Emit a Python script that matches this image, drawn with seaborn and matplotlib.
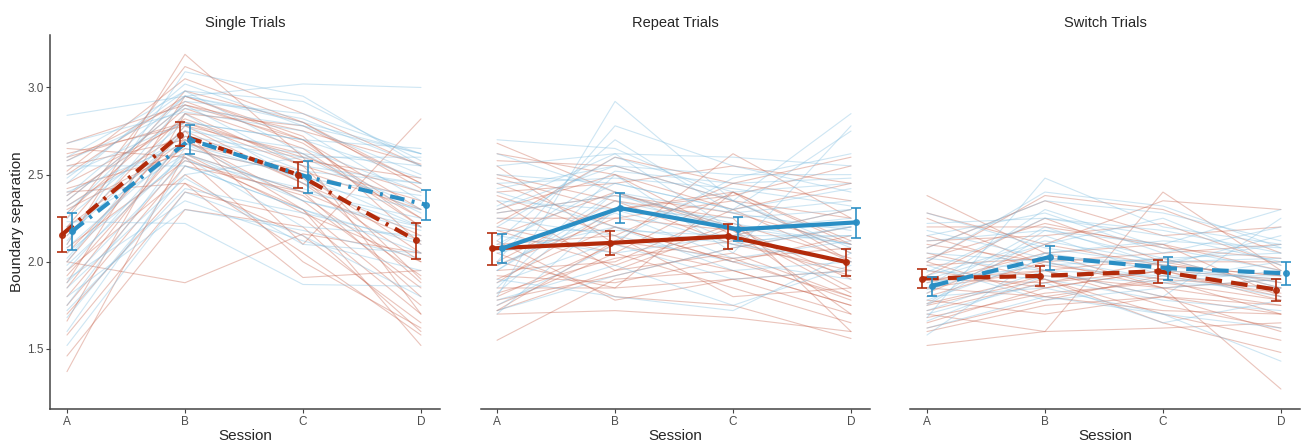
import numpy as np
import pandas as pd
import matplotlib
matplotlib.use("Agg")
import matplotlib.pyplot as plt
import seaborn as sns

sessions = ["A", "B", "C", "D"]
panels = ["Single Trials", "Repeat Trials", "Switch Trials"]
groups = ["red", "blue"]

# individual subjects, values at A, B, C, D
single_red = [
    [1.37, 2.62, 2.40, 1.80], [1.46, 2.30, 2.20, 1.60], [1.66, 2.85, 2.55, 1.90],
    [1.80, 2.60, 2.30, 1.75], [1.88, 2.95, 2.70, 2.20], [1.95, 2.50, 2.05, 1.58],
    [2.00, 1.88, 2.16, 2.05], [2.05, 2.75, 2.45, 2.00], [2.10, 3.19, 2.60, 1.70],
    [2.15, 2.85, 2.78, 2.45], [2.20, 2.70, 2.35, 1.85], [2.25, 3.12, 2.85, 2.55],
    [2.30, 2.65, 2.50, 2.05], [2.35, 2.90, 2.70, 2.30], [2.40, 2.45, 1.91, 1.95],
    [2.45, 2.80, 2.60, 2.40], [2.50, 2.95, 2.72, 2.10], [2.55, 2.70, 2.30, 1.52],
    [2.60, 2.80, 2.55, 2.35], [2.68, 2.90, 2.75, 2.56], [2.65, 2.60, 2.00, 1.62],
    [2.32, 2.75, 2.10, 2.82], [1.75, 2.55, 2.40, 2.12], [2.20, 2.98, 2.80, 2.45],
    [1.58, 2.40, 2.25, 1.70], [2.00, 2.78, 2.62, 2.25], [2.42, 2.62, 2.28, 2.00],
    [1.85, 2.72, 2.48, 1.88], [2.28, 2.88, 2.65, 2.20], [1.92, 2.68, 2.52, 2.30],
    [2.52, 3.05, 2.80, 2.42], [1.70, 2.45, 2.15, 1.65], [2.38, 2.82, 2.58, 2.48],
    [2.08, 2.58, 2.38, 1.92], [2.58, 2.92, 2.68, 2.25], [2.62, 2.78, 2.45, 2.15],
]
single_blue = [
    [2.84, 2.95, 3.02, 3.00], [1.52, 2.40, 2.15, 1.80], [1.60, 2.55, 2.30, 2.05],
    [1.75, 2.65, 2.50, 2.20], [1.85, 2.48, 2.10, 2.05], [1.95, 2.70, 2.60, 2.60],
    [2.00, 2.85, 2.45, 2.30], [2.05, 2.60, 2.20, 2.15], [2.10, 3.09, 2.95, 2.55],
    [2.15, 2.75, 2.65, 2.40], [2.23, 2.22, 1.87, 1.86], [2.28, 2.95, 2.80, 2.62],
    [2.35, 2.90, 2.55, 2.45], [2.40, 2.68, 2.35, 2.20], [2.45, 3.02, 2.78, 2.50],
    [2.50, 2.80, 2.70, 2.65], [2.55, 2.55, 2.30, 2.10], [2.60, 2.98, 2.92, 2.58],
    [2.68, 2.86, 2.75, 2.35], [1.90, 2.35, 2.12, 1.95], [2.20, 2.62, 2.40, 2.25],
    [2.02, 2.78, 2.52, 2.45], [1.68, 2.50, 2.60, 2.28], [2.32, 2.72, 2.62, 2.55],
    [1.80, 2.30, 2.18, 2.02], [2.12, 2.92, 2.85, 2.62], [2.38, 2.95, 2.82, 2.55],
    [1.98, 2.62, 2.35, 2.18], [2.58, 2.88, 2.78, 2.62], [1.72, 2.42, 2.28, 2.12],
    [2.25, 2.80, 2.70, 2.48], [2.08, 2.68, 2.48, 2.38], [2.48, 2.98, 2.62, 2.30],
    [1.88, 2.58, 2.42, 2.20],
]
repeat_red = [
    [1.55, 1.90, 1.95, 1.75], [1.70, 1.72, 1.68, 1.60], [1.72, 1.95, 2.20, 1.85],
    [1.75, 2.05, 2.40, 2.10], [1.80, 2.10, 2.62, 2.25], [1.85, 1.85, 1.90, 1.70],
    [1.90, 2.20, 2.00, 1.80], [1.95, 2.00, 2.30, 2.45], [2.00, 2.35, 2.10, 1.95],
    [2.05, 1.80, 1.75, 1.56], [2.10, 2.15, 2.45, 2.60], [2.15, 2.40, 2.20, 1.90],
    [2.20, 2.05, 1.85, 1.65], [2.25, 2.25, 2.35, 2.05], [2.30, 2.50, 2.15, 2.30],
    [2.35, 1.95, 2.05, 1.80], [2.40, 2.45, 2.55, 2.45], [2.45, 2.20, 2.00, 2.15],
    [2.50, 2.35, 2.25, 1.60], [2.55, 2.10, 1.95, 1.75], [2.62, 2.50, 2.30, 2.00],
    [2.68, 2.40, 2.18, 1.70], [1.78, 1.92, 2.08, 2.20], [2.00, 1.85, 2.40, 2.00],
    [2.22, 2.60, 2.45, 2.35], [1.88, 2.30, 2.38, 2.55], [2.12, 1.78, 1.90, 1.95],
    [2.38, 2.15, 1.80, 1.85], [1.82, 2.02, 2.12, 1.92], [2.28, 2.38, 2.28, 2.10],
    [1.98, 2.25, 2.18, 1.82], [2.48, 2.30, 2.40, 2.12], [1.72, 2.12, 2.02, 1.78],
    [2.18, 1.98, 2.22, 2.02], [2.58, 2.55, 2.35, 2.25], [1.92, 1.88, 2.02, 2.08],
]
repeat_blue = [
    [1.70, 2.30, 2.10, 2.20], [1.75, 2.10, 1.90, 1.95], [1.80, 2.92, 2.35, 2.85],
    [1.85, 2.50, 2.05, 2.78], [1.90, 1.80, 1.72, 2.05], [1.95, 2.35, 2.20, 2.10],
    [2.00, 2.78, 2.55, 2.40], [2.05, 2.20, 1.95, 2.00], [2.10, 2.45, 2.30, 2.75],
    [2.15, 2.05, 2.15, 2.15], [2.20, 2.60, 2.40, 2.45], [2.25, 2.15, 2.00, 1.90],
    [2.30, 2.55, 2.50, 2.50], [2.35, 2.30, 2.25, 2.30], [2.45, 2.48, 2.42, 2.32],
    [2.55, 2.62, 2.60, 2.55], [2.62, 2.40, 2.20, 2.20], [2.70, 2.65, 2.35, 2.05],
    [1.78, 1.98, 1.75, 1.98], [2.12, 2.70, 2.28, 2.35], [1.95, 2.40, 2.12, 2.15],
    [2.40, 2.20, 2.10, 2.00], [1.88, 2.12, 2.48, 2.62], [2.28, 2.38, 2.22, 2.10],
    [1.82, 2.40, 2.28, 2.18], [2.08, 2.52, 2.45, 2.48], [2.32, 2.62, 2.18, 2.25],
    [1.98, 2.28, 2.02, 2.12], [2.50, 2.45, 2.30, 2.42], [2.18, 2.18, 2.15, 2.30],
    [1.72, 1.92, 2.08, 2.20], [2.42, 2.55, 2.35, 2.08],
]
switch_red = [
    [1.52, 1.60, 1.62, 1.65], [1.60, 1.75, 1.80, 1.70], [1.65, 1.85, 1.95, 1.80],
    [1.70, 1.60, 2.40, 1.95], [1.75, 1.90, 1.70, 1.55], [1.80, 2.00, 1.85, 1.75],
    [1.85, 1.80, 1.90, 1.85], [1.88, 2.05, 2.10, 1.95], [1.90, 1.95, 1.75, 1.62],
    [1.95, 1.85, 1.95, 1.90], [2.00, 2.38, 2.30, 2.05], [2.05, 1.90, 1.65, 1.48],
    [2.10, 2.00, 2.05, 2.10], [2.15, 1.95, 1.80, 1.75], [2.20, 2.20, 2.10, 1.80],
    [2.28, 2.10, 1.98, 1.92], [2.38, 2.05, 1.85, 1.27], [1.72, 1.88, 2.00, 2.00],
    [2.00, 1.80, 1.72, 1.70], [1.82, 2.10, 2.35, 2.30], [1.92, 2.25, 2.00, 1.88],
    [1.78, 1.70, 1.80, 1.60], [2.08, 2.35, 2.15, 2.20], [1.68, 1.82, 1.88, 1.78],
    [1.98, 2.02, 1.98, 1.92], [1.62, 1.78, 1.92, 1.82], [2.12, 2.15, 2.22, 1.98],
    [1.85, 1.95, 2.02, 1.85], [2.25, 1.98, 1.90, 1.70], [1.76, 1.92, 1.85, 1.90],
    [2.02, 2.22, 2.08, 2.02], [1.90, 1.88, 1.95, 1.78],
]
switch_blue = [
    [1.58, 2.05, 1.95, 1.90], [1.62, 1.80, 1.70, 1.62], [1.68, 2.48, 2.20, 2.10],
    [1.72, 1.95, 1.80, 2.25], [1.75, 2.15, 1.92, 1.80], [1.80, 1.85, 1.70, 1.43],
    [1.85, 2.30, 2.08, 1.95], [1.88, 1.98, 2.02, 2.05], [1.90, 2.10, 2.25, 1.98],
    [1.95, 1.90, 1.78, 1.72], [2.00, 2.40, 2.32, 2.08], [2.05, 2.00, 1.88, 1.85],
    [2.12, 2.18, 2.10, 2.30], [2.22, 2.25, 2.15, 2.00], [2.28, 2.08, 1.98, 1.88],
    [1.70, 1.88, 1.65, 1.78], [1.82, 2.20, 1.98, 2.15], [1.98, 1.78, 1.85, 1.90],
    [2.08, 2.35, 2.28, 2.12], [1.78, 2.02, 1.90, 2.00], [1.92, 2.12, 2.00, 2.02],
    [1.66, 1.92, 1.88, 1.95], [2.15, 2.28, 2.05, 2.20], [1.84, 2.05, 2.12, 2.08],
    [2.02, 1.95, 1.92, 1.92], [1.76, 2.18, 2.02, 1.85], [2.18, 2.02, 2.00, 2.10],
    [1.94, 2.25, 2.18, 2.05],
]

# group means with error bar limits
single_red_mean = [2.156, 2.729, 2.500, 2.123]
single_red_lo = [2.056, 2.664, 2.425, 2.018]
single_red_hi = [2.257, 2.800, 2.574, 2.222]
single_blue_mean = [2.175, 2.700, 2.486, 2.328]
single_blue_lo = [2.066, 2.620, 2.394, 2.242]
single_blue_hi = [2.280, 2.782, 2.578, 2.414]

repeat_red_mean = [2.077, 2.108, 2.146, 1.999]
repeat_red_lo = [1.984, 2.037, 2.073, 1.921]
repeat_red_hi = [2.167, 2.177, 2.219, 2.076]
repeat_blue_mean = [2.077, 2.308, 2.186, 2.226]
repeat_blue_lo = [1.994, 2.221, 2.118, 2.139]
repeat_blue_hi = [2.158, 2.394, 2.255, 2.311]

switch_red_mean = [1.904, 1.919, 1.946, 1.841]
switch_red_lo = [1.848, 1.864, 1.881, 1.778]
switch_red_hi = [1.959, 1.974, 2.009, 1.904]
switch_blue_mean = [1.862, 2.028, 1.963, 1.934]
switch_blue_lo = [1.806, 1.955, 1.898, 1.869]
switch_blue_hi = [1.913, 2.093, 2.028, 1.999]

subjects = {
    "Single Trials": {"red": single_red, "blue": single_blue},
    "Repeat Trials": {"red": repeat_red, "blue": repeat_blue},
    "Switch Trials": {"red": switch_red, "blue": switch_blue},
}
summary = {
    "Single Trials": {"red": (single_red_mean, single_red_lo, single_red_hi),
                      "blue": (single_blue_mean, single_blue_lo, single_blue_hi)},
    "Repeat Trials": {"red": (repeat_red_mean, repeat_red_lo, repeat_red_hi),
                      "blue": (repeat_blue_mean, repeat_blue_lo, repeat_blue_hi)},
    "Switch Trials": {"red": (switch_red_mean, switch_red_lo, switch_red_hi),
                      "blue": (switch_blue_mean, switch_blue_lo, switch_blue_hi)},
}

# long tables
rows = []
for p in panels:
    for g in groups:
        for i, vals in enumerate(subjects[p][g]):
            for j, v in enumerate(vals):
                rows.append({"panel": p, "group": g, "subj": f"{g}{i}", "x": j, "value": v})
df = pd.DataFrame(rows)

mrows = []
for p in panels:
    for g in groups:
        m, lo, hi = summary[p][g]
        for j in range(4):
            mrows.append({"panel": p, "group": g, "x": j, "mean": m[j], "lo": lo[j], "hi": hi[j]})
dm = pd.DataFrame(mrows)

sns.set_theme(style="white")
plt.rcParams["font.family"] = ["Liberation Sans", "DejaVu Sans"]

thin = {"red": "#c8644e", "blue": "#7fbde0"}
thick = {"red": "#b22a0a", "blue": "#2a8ec4"}
dodge = {"red": -0.042, "blue": 0.042}
styles = {
    "Single Trials": (0, (3.5, 1.8, 0.7, 1.8)),
    "Repeat Trials": "-",
    "Switch Trials": (0, (4.0, 2.2)),
}

fig = plt.figure(figsize=(13.04, 4.45), dpi=100)
lefts = [0.0387, 0.3685, 0.6982]
axes = [fig.add_axes([l, 0.081, 0.2986, 0.84]) for l in lefts]

for ax, p in zip(axes, panels):
    d = df[df.panel == p]
    for g in groups:
        sns.lineplot(data=d[d.group == g], x="x", y="value", units="subj",
                     estimator=None, color=thin[g], alpha=0.38, lw=0.8, ax=ax)
    for g in groups:
        s = dm[(dm.panel == p) & (dm.group == g)].copy()
        s["xd"] = s["x"] + dodge[g]
        sns.lineplot(data=s, x="xd", y="mean", color=thick[g], lw=3.0,
                     linestyle=styles[p], ax=ax, zorder=5)
        ax.errorbar(s["xd"], s["mean"], yerr=[s["mean"] - s["lo"], s["hi"] - s["mean"]],
                    fmt="o", ms=4, color=thick[g], ecolor=thick[g], elinewidth=1.3,
                    capsize=3.3, capthick=1.3, alpha=0.9, zorder=6)
    ax.set_xlim(-0.14, 3.16)
    ax.set_ylim(1.156, 3.30)
    ax.set_xticks(range(4))
    ax.set_xticklabels(sessions)
    ax.set_title(p, fontsize=10.5, pad=6)
    ax.set_xlabel("Session", fontsize=11, labelpad=1)
    ax.set_ylabel("")
    for sp in ["top", "right"]:
        ax.spines[sp].set_visible(False)
    ax.spines["bottom"].set_color("#444444")
    ax.spines["bottom"].set_linewidth(1.1)
    ax.tick_params(axis="x", bottom=True, length=3, width=0.8, color="#444444",
                   labelsize=8.5, labelcolor="#4d4d4d", pad=2)

axes[0].set_yticks([1.5, 2.0, 2.5, 3.0])
axes[0].set_ylabel("Boundary separation", fontsize=11, labelpad=2)
axes[0].spines["left"].set_color("#444444")
axes[0].spines["left"].set_linewidth(1.1)
axes[0].tick_params(axis="y", left=True, length=3, width=0.8, color="#444444",
                    labelsize=8.5, labelcolor="#4d4d4d", pad=2)
for ax in axes[1:]:
    ax.spines["left"].set_visible(False)
    ax.set_yticks([])

fig.savefig("out.png", dpi=100)
